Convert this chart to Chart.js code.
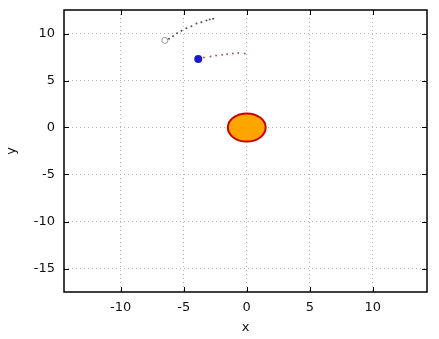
<!DOCTYPE html>
<html>
<head>
<meta charset="utf-8">
<script src="https://cdn.jsdelivr.net/npm/chart.js@4"></script>
<style>
  body { margin: 0; background: #fff; }
  #c { display: block; }
</style>
</head>
<body>
<canvas id="c" width="439" height="339"></canvas>
<script>
// orbit trails
const grayTrailX = [-6.17, -5.85, -5.53, -5.18, -4.79, -4.39, -3.99, -3.60, -3.20, -2.94, -2.67];
const grayTrailY = [9.44, 9.71, 10.03, 10.29, 10.56, 10.78, 11.06, 11.20, 11.38, 11.49, 11.56];
const grayBody = [-6.5, 9.26];

const redTrailX = [-3.4, -2.87, -2.43, -1.95, -1.56, -1.1, -0.68, -0.16];
const redTrailY = [7.45, 7.55, 7.66, 7.74, 7.8, 7.87, 7.92, 7.87];
const blueBody = [-3.85, 7.3];

const sun = { x: 0, y: 0, r: 1.5 };

const xTicks = [-10, -5, 0, 5, 10];
const yTicks = [-15, -10, -5, 0, 5, 10];

const toPts = (xs, ys) => xs.map((x, i) => ({ x: x, y: ys[i] }));

// sun disc, drawn in data units so it stretches with the axes
const sunPlugin = {
    id: "sun",
    beforeDatasetsDraw(chart) {
        const { ctx, scales } = chart;
        const cx = scales.x.getPixelForValue(sun.x);
        const cy = scales.y.getPixelForValue(sun.y);
        const rx = Math.abs(scales.x.getPixelForValue(sun.x + sun.r) - cx);
        const ry = Math.abs(scales.y.getPixelForValue(sun.y + sun.r) - cy);
        ctx.save();
        ctx.beginPath();
        ctx.ellipse(cx, cy, rx, ry, 0, 0, Math.PI * 2);
        ctx.fillStyle = "#FFA500";
        ctx.fill();
        ctx.lineWidth = 2;
        ctx.strokeStyle = "#CC0000";
        ctx.stroke();
        ctx.restore();
    }
};

// black box with inward ticks on every side
const framePlugin = {
    id: "frame",
    afterDraw(chart) {
        const { ctx, chartArea: a, scales } = chart;
        const len = 5;
        ctx.save();
        ctx.strokeStyle = "#000";
        ctx.lineWidth = 1;
        ctx.beginPath();
        scales.x.ticks.forEach(t => {
            const px = Math.round(scales.x.getPixelForValue(t.value)) + 0.5;
            ctx.moveTo(px, a.bottom); ctx.lineTo(px, a.bottom - len);
            ctx.moveTo(px, a.top); ctx.lineTo(px, a.top + len);
        });
        scales.y.ticks.forEach(t => {
            const py = Math.round(scales.y.getPixelForValue(t.value)) + 0.5;
            ctx.moveTo(a.left, py); ctx.lineTo(a.left + len, py);
            ctx.moveTo(a.right, py); ctx.lineTo(a.right - len, py);
        });
        ctx.stroke();
        ctx.lineWidth = 1.5;
        ctx.strokeRect(a.left, a.top, a.right - a.left, a.bottom - a.top);
        ctx.restore();
    }
};

const font = { family: "DejaVu Sans", size: 13 };

new Chart(document.getElementById("c"), {
    type: "scatter",
    data: {
        datasets: [
            {
                data: toPts(grayTrailX, grayTrailY),
                pointRadius: 1,
                pointBackgroundColor: "#4a4f6a",
                pointBorderWidth: 0
            },
            {
                data: [{ x: grayBody[0], y: grayBody[1] }],
                pointRadius: 3,
                pointBackgroundColor: "#fff",
                pointBorderColor: "#999",
                pointBorderWidth: 1
            },
            {
                data: toPts(redTrailX, redTrailY),
                pointRadius: 1,
                pointBackgroundColor: "#c0506a",
                pointBorderWidth: 0
            },
            {
                data: [{ x: blueBody[0], y: blueBody[1] }],
                pointRadius: 4,
                pointBackgroundColor: "#1a1ad0",
                pointBorderColor: "#1a1ad0",
                pointBorderWidth: 0
            }
        ]
    },
    options: {
        responsive: false,
        animation: false,
        layout: { padding: { top: 10, right: 12, left: 0, bottom: 0 } },
        plugins: { legend: { display: false }, tooltip: { enabled: false } },
        scales: {
            x: {
                type: "linear",
                min: -14.5,
                max: 14.3,
                afterBuildTicks: s => { s.ticks = xTicks.map(v => ({ value: v })); },
                afterFit: s => { s.height = 47; s.paddingLeft = 0; s.paddingRight = 0; },
                grid: { color: "#b8b8b8", drawTicks: false },
                border: { display: false, dash: [1, 3] },
                ticks: { color: "#111", font: font, padding: 8 },
                title: { display: true, text: "x", color: "#111", font: font, padding: { top: 2 } }
            },
            y: {
                type: "linear",
                min: -17.5,
                max: 12.5,
                afterBuildTicks: s => { s.ticks = yTicks.map(v => ({ value: v })); },
                afterFit: s => { s.width = 64; s.paddingTop = 0; s.paddingBottom = 0; },
                grid: { color: "#b8b8b8", drawTicks: false },
                border: { display: false, dash: [1, 3] },
                ticks: { color: "#111", font: font, padding: 9 },
                title: { display: true, text: "y", color: "#111", font: font }
            }
        }
    },
    plugins: [sunPlugin, framePlugin]
});
</script>
</body>
</html>
